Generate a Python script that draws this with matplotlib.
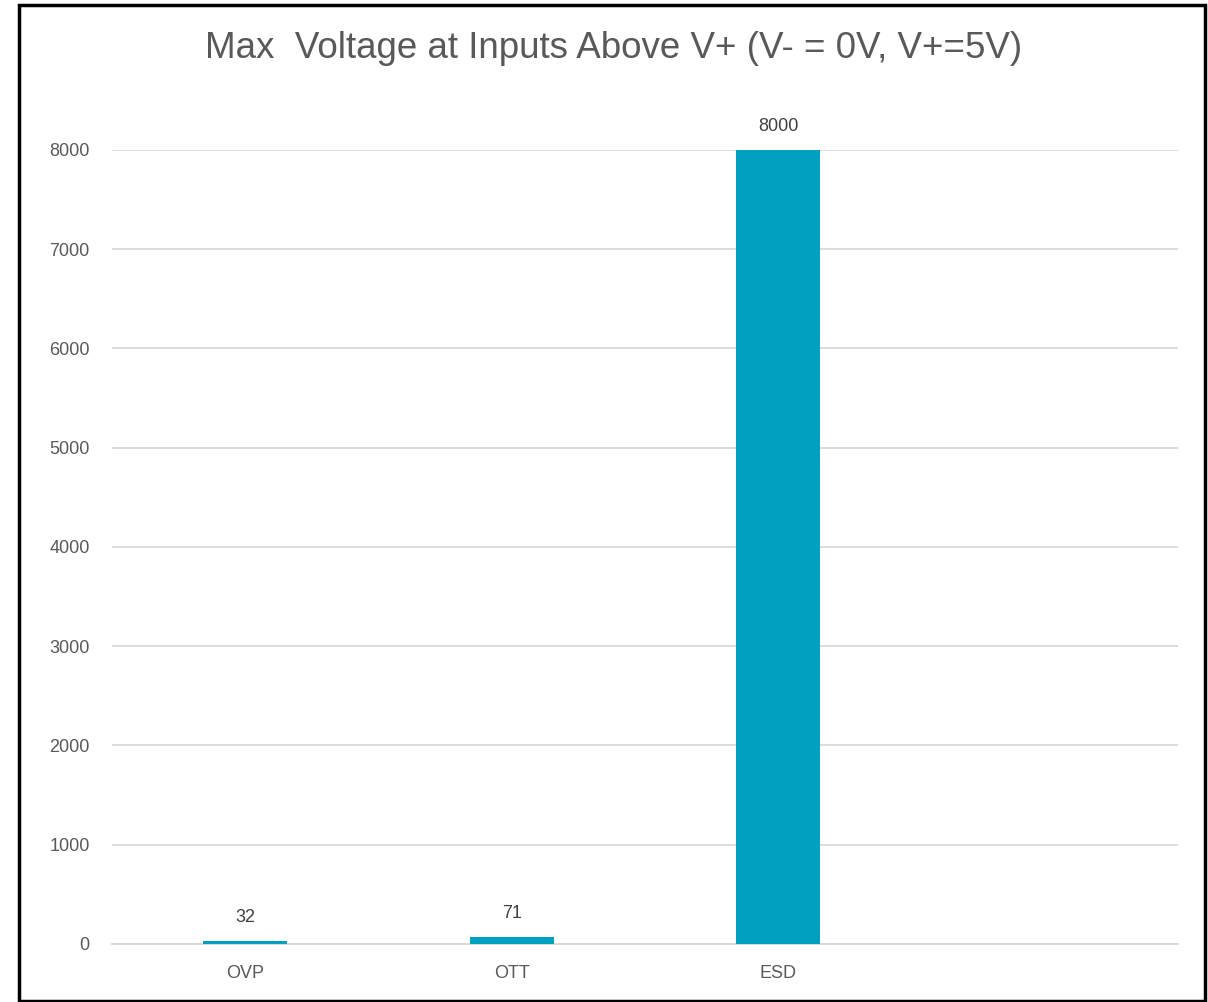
import matplotlib
matplotlib.use("Agg")
import matplotlib.pyplot as plt
from matplotlib.patches import Rectangle

categories = ["OVP", "OTT", "ESD", ""]
values = [32, 71, 8000, None]
yticks = [0, 1000, 2000, 3000, 4000, 5000, 6000, 7000, 8000]
title = "Max  Voltage at Inputs Above V+ (V- = 0V, V+=5V)"

plt.rcParams["font.family"] = ["Liberation Sans", "DejaVu Sans"]

text_color = "#595959"
grid_color = "#D9D9D9"
bar_color = "#00A0C0"

fig = plt.figure(figsize=(12.08, 10.02), dpi=100)
ax = fig.add_axes([0.0927, 0.0579, 0.8825, 0.7924])

xs = list(range(len(categories)))
bx = [x for x, v in zip(xs, values) if v is not None]
bv = [v for v in values if v is not None]
bars = ax.bar(bx, bv, width=0.315, color=bar_color, zorder=3)

for x, v in zip(bx, bv):
    ax.annotate(f"{v}", (x, v), xytext=(0, 11), textcoords="offset points",
                ha="center", va="bottom", fontsize=13, color="#404040")

ax.set_xlim(-0.5, len(categories) - 0.5)
ax.set_ylim(0, 8000)
ax.set_yticks(yticks)
ax.set_xticks(xs)
ax.set_xticklabels(categories)
ax.yaxis.grid(True, color=grid_color, linewidth=1.3, zorder=0)
ax.set_axisbelow(True)
for s in ["top", "right", "left"]:
    ax.spines[s].set_visible(False)
ax.spines["bottom"].set_color(grid_color)
ax.spines["bottom"].set_linewidth(1.3)
ax.spines["bottom"].set_zorder(1)
ax.tick_params(axis="both", length=0, labelsize=13, labelcolor=text_color)
ax.tick_params(axis="x", pad=15)
ax.tick_params(axis="y", pad=16)

fig.text(614 / 1208, 1 - 48 / 1002, title, ha="center", va="center",
         fontsize=26.5, color=text_color)

# outer border
fig.patches.append(Rectangle((19 / 1208, 1 / 1002), (1205 - 19) / 1208, (1000 - 4) / 1002,
                             transform=fig.transFigure, fill=False,
                             edgecolor="black", linewidth=2.5))

fig.savefig("out.png", dpi=100, facecolor="white")
